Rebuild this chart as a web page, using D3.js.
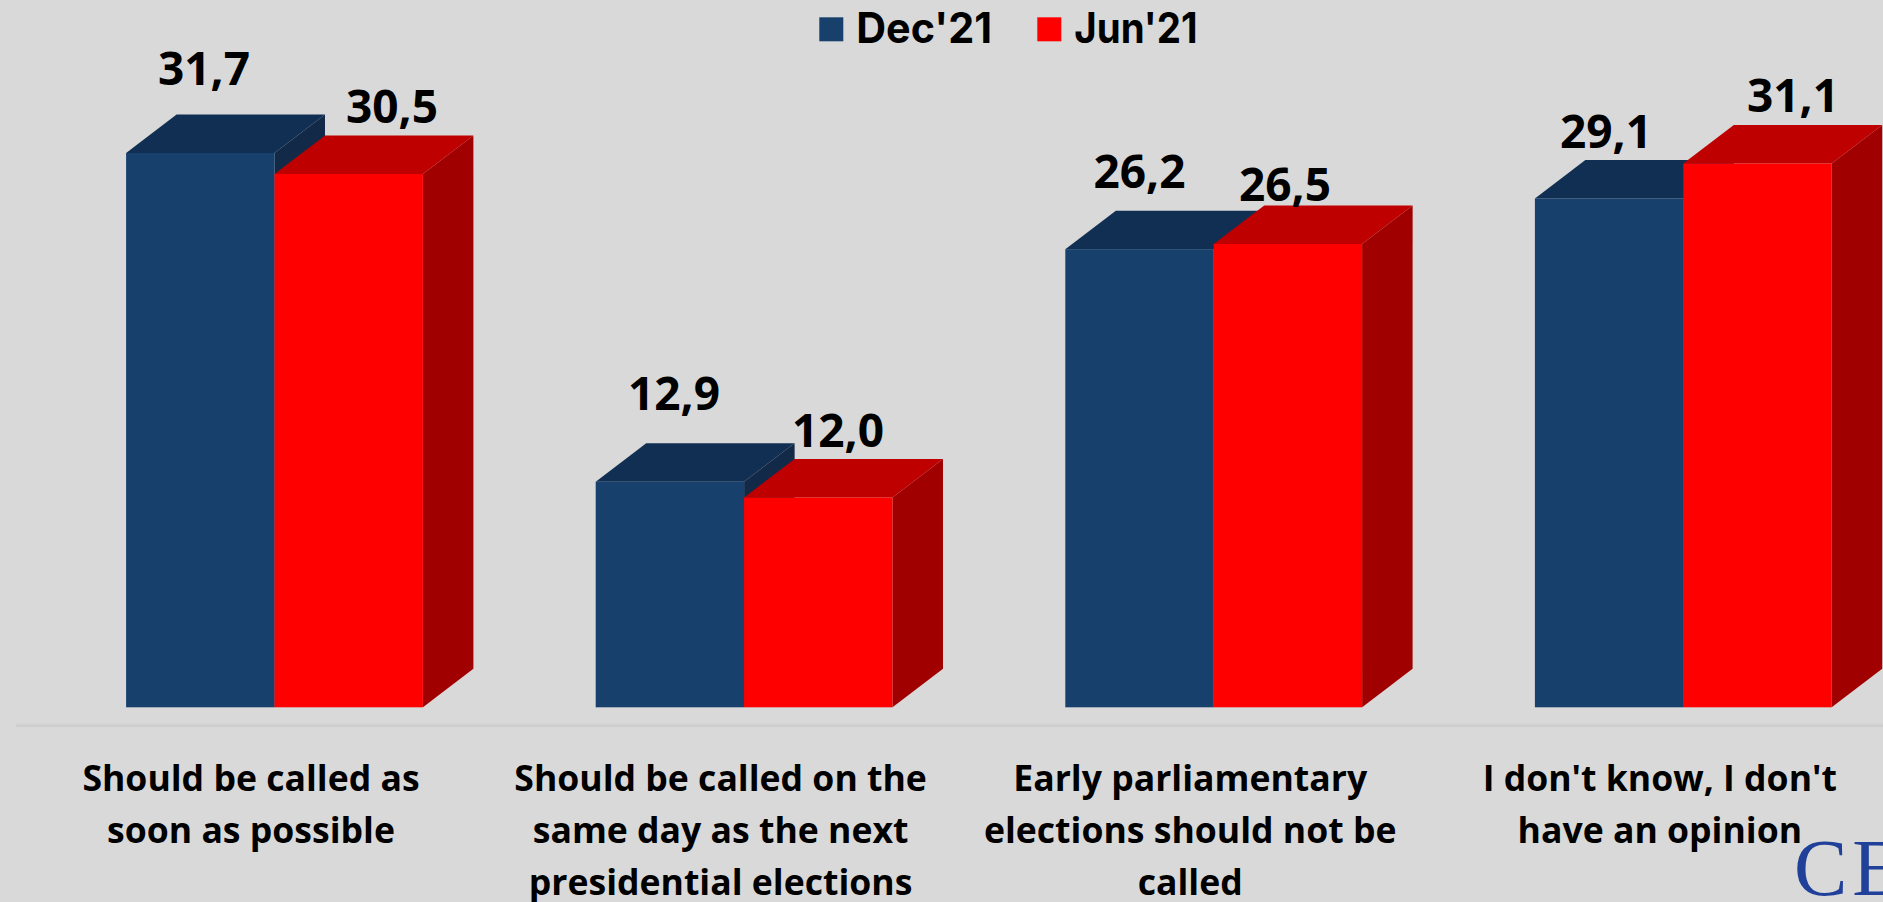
<!DOCTYPE html>
<html>
<head>
<meta charset="utf-8">
<script src="https://cdnjs.cloudflare.com/ajax/libs/d3/7.8.5/d3.min.js"></script>
<style>
  html, body { margin: 0; padding: 0; background: #d9d9d9; overflow: hidden; }
  svg { display: block; }
  text { font-family: "Open Sans", sans-serif; font-weight: 700; fill: #000; }
</style>
</head>
<body>
<svg id="chart" width="1883" height="902"></svg>
<script>
const categories = [
  ["Should be called as", "soon as possible"],
  ["Should be called on the", "same day as the next", "presidential elections"],
  ["Early parliamentary", "elections should not be", "called"],
  ["I don't know, I don't", "have an opinion"]
];
const seriesNames = ["Dec'21", "Jun'21"];
const dec21 = [31.7, 12.9, 26.2, 29.1];
const jun21 = [30.5, 12.0, 26.5, 31.1];

// the value labels were placed by hand in the original, so nudge them per bar
const labelNudge = {
  "Dec'21": { dx: [3.7, 4.1, 0, -3.1], dy: [-67.9, -71.7, -60.8, -50] },
  "Jun'21": { dx: [43.3, 19.7, -2.9, 35.5], dy: [-51.2, -50.4, -43.1, -51.1] }
};

const colors = {
  "Dec'21": { front: "#17406d", top: "#112f52", side: "#122a47" },
  "Jun'21": { front: "#ff0000", top: "#bf0000", side: "#a00000" }
};
const depthX = 50.5, depthY = 38.5;
const baseline = 707.3;

const svg = d3.select("#chart");

// each category gets one band, bars sit in the middle of it
const x0 = d3.scaleBand().domain(d3.range(categories.length)).range([39.7, 1918.1]);
const x1 = d3.scaleBand().domain(seriesNames).range([86.4, 383.2]);
const y = d3.scaleLinear().domain([0, 31.7]).range([baseline, 153]);

const fmt = v => v.toFixed(1).replace(".", ",");

// axis line with its faint shadow
svg.append("line").attr("x1", 16).attr("x2", 1883).attr("y1", 724.5).attr("y2", 724.5)
  .attr("stroke", "#d2d2d2").attr("stroke-width", 1.5);
svg.append("line").attr("x1", 16).attr("x2", 1883).attr("y1", 726).attr("y2", 726)
  .attr("stroke", "#c4c4c4").attr("stroke-width", 1);

const rows = [];
seriesNames.forEach((s, si) => {
  const vals = si === 0 ? dec21 : jun21;
  vals.forEach((v, i) => rows.push({ s, i, v }));
});

const bars = svg.append("g").selectAll("g").data(rows).enter().append("g");

// side face
bars.append("path").attr("fill", d => colors[d.s].side).attr("d", d => {
  const r = x0(d.i) + x1(d.s) + x1.bandwidth();
  return d3.line()([[r, y(d.v)], [r + depthX, y(d.v) - depthY], [r + depthX, baseline - depthY], [r, baseline]]) + "Z";
});
// top face
bars.append("path").attr("fill", d => colors[d.s].top).attr("d", d => {
  const l = x0(d.i) + x1(d.s), r = l + x1.bandwidth();
  return d3.line()([[l, y(d.v)], [l + depthX, y(d.v) - depthY], [r + depthX, y(d.v) - depthY], [r, y(d.v)]]) + "Z";
});
// front face
bars.append("rect")
  .attr("x", d => x0(d.i) + x1(d.s))
  .attr("y", d => y(d.v))
  .attr("width", x1.bandwidth())
  .attr("height", d => baseline - y(d.v))
  .attr("fill", d => colors[d.s].front);

// value labels
svg.append("g").selectAll("text").data(rows).enter().append("text")
  .attr("x", d => x0(d.i) + x1(d.s) + x1.bandwidth() / 2 + labelNudge[d.s].dx[d.i])
  .attr("y", d => y(d.v) + labelNudge[d.s].dy[d.i])
  .attr("text-anchor", "middle")
  .attr("font-size", 46)
  .text(d => fmt(d.v));

// category labels sit a bit left of the bar pair
const cats = svg.append("g").selectAll("g").data(categories).enter().append("g");
cats.selectAll("text").data((d, i) => d.map(t => ({ t, i }))).enter().append("text")
  .attr("x", d => x0(d.i) + x0.bandwidth() / 2 - 23.5)
  .attr("y", (d, j) => 791 + j * 52)
  .attr("text-anchor", "middle")
  .attr("font-size", 35.6)
  .text(d => d.t);

// legend
const legendX = [819.3, 1037.3];
const legendTextW = [135.7, 123.3];
const legend = svg.append("g").selectAll("g").data(seriesNames).enter().append("g");
legend.append("rect")
  .attr("x", (d, i) => legendX[i]).attr("y", 17.3).attr("width", 24).attr("height", 24)
  .attr("fill", d => colors[d].front);
legend.append("text")
  .attr("x", (d, i) => legendX[i] + 37).attr("y", 43.3)
  .style("font-family", "Inter, sans-serif")
  .attr("font-size", 42)
  .attr("textLength", (d, i) => legendTextW[i])
  .attr("lengthAdjust", "spacingAndGlyphs")
  .text(d => d);

// logo, cut by the page edge
svg.append("text").attr("x", 1794).attr("y", 895)
  .style("font-family", "'Liberation Serif', serif").style("font-weight", 400).style("fill", "#21409a")
  .style("letter-spacing", "5px")
  .attr("font-size", 80).text("CE");
</script>
</body>
</html>
